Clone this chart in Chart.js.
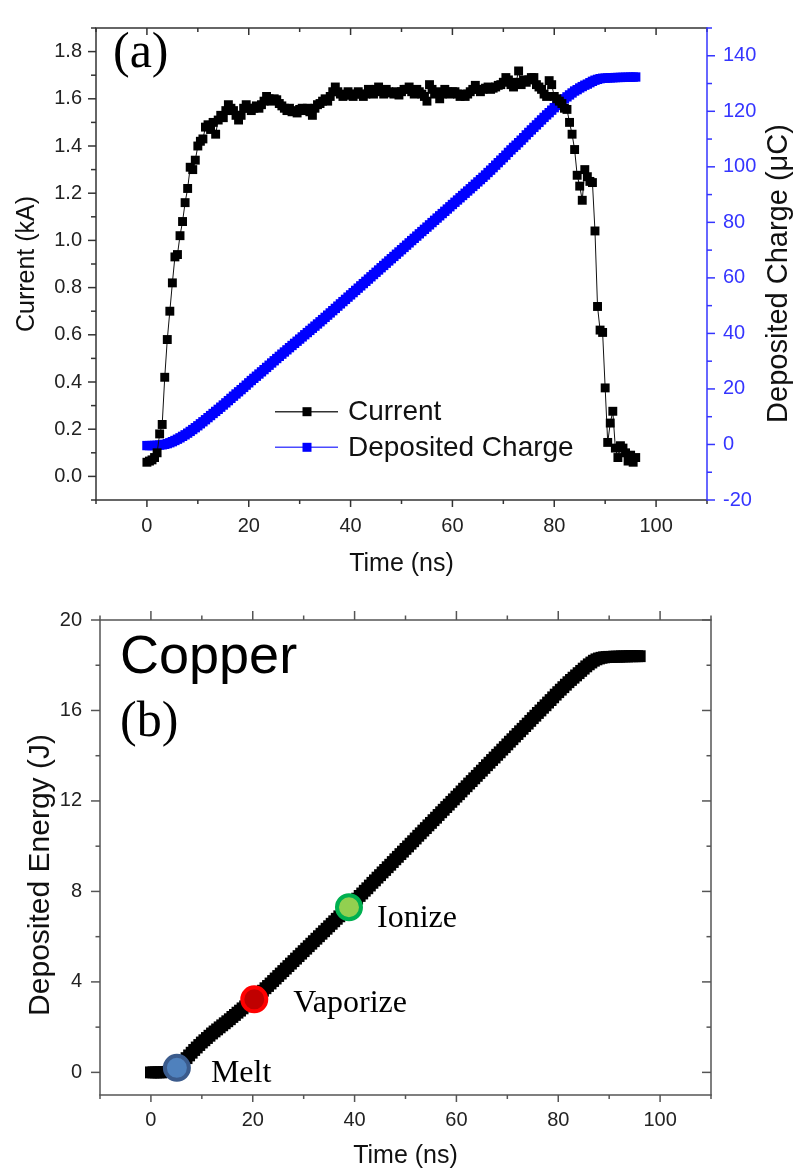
<!DOCTYPE html>
<html>
<head>
<meta charset="utf-8">
<script src="https://cdn.jsdelivr.net/npm/chart.js@4/dist/chart.umd.min.js"></script>
<style>
html,body{margin:0;padding:0;background:#fff;}
#wrap{position:relative;width:793px;height:1176px;overflow:hidden;background:#fff;}
#ca{position:absolute;left:0;top:0;}
#cb{position:absolute;left:0;top:590px;}
</style>
</head>
<body>
<div id="wrap">
<canvas id="ca" width="793" height="590"></canvas>
<canvas id="cb" width="793" height="586"></canvas>
</div>
<script>
// ---------------- DATA ----------------
const time = [
0,0.5,1,1.5,2,2.5,3,3.5,4,4.5,5,5.5,6,6.5,7,7.5,8,8.5,9,9.5,
10,10.5,11,11.5,12,12.5,13,13.5,14,14.5,15,15.5,16,16.5,17,17.5,18,18.5,19,19.5,
20,20.5,21,21.5,22,22.5,23,23.5,24,24.5,25,25.5,26,26.5,27,27.5,28,28.5,29,29.5,
30,30.5,31,31.5,32,32.5,33,33.5,34,34.5,35,35.5,36,36.5,37,37.5,38,38.5,39,39.5,
40,40.5,41,41.5,42,42.5,43,43.5,44,44.5,45,45.5,46,46.5,47,47.5,48,48.5,49,49.5,
50,50.5,51,51.5,52,52.5,53,53.5,54,54.5,55,55.5,56,56.5,57,57.5,58,58.5,59,59.5,
60,60.5,61,61.5,62,62.5,63,63.5,64,64.5,65,65.5,66,66.5,67,67.5,68,68.5,69,69.5,
70,70.5,71,71.5,72,72.5,73,73.5,74,74.5,75,75.5,76,76.5,77,77.5,78,78.5,79,79.5,
80,80.5,81,81.5,82,82.5,83,83.5,84,84.5,85,85.5,86,86.5,87,87.5,88,88.5,89,89.5,
90,90.5,91,91.5,92,92.5,93,93.5,94,94.5,95,95.5,96
];
const current = [
0.06,0.065,0.07,0.08,0.10,0.18,0.22,0.42,0.58,0.70,0.82,0.93,0.94,1.02,1.08,1.16,1.22,1.31,1.30,1.34,
1.40,1.42,1.43,1.48,1.49,1.47,1.50,1.45,1.51,1.53,1.52,1.55,1.575,1.56,1.55,1.53,1.51,1.53,1.56,1.575,
1.56,1.55,1.56,1.57,1.56,1.575,1.59,1.61,1.60,1.59,1.60,1.596,1.58,1.57,1.56,1.55,1.56,1.545,1.55,1.54,
1.555,1.56,1.55,1.56,1.545,1.53,1.56,1.575,1.58,1.59,1.60,1.59,1.61,1.63,1.65,1.63,1.62,1.61,1.615,1.63,
1.62,1.61,1.62,1.63,1.62,1.61,1.62,1.64,1.63,1.62,1.64,1.65,1.63,1.62,1.64,1.63,1.625,1.62,1.63,1.616,
1.63,1.64,1.64,1.65,1.63,1.62,1.64,1.63,1.62,1.61,1.59,1.66,1.64,1.62,1.63,1.60,1.62,1.64,1.63,1.62,
1.63,1.63,1.62,1.61,1.62,1.61,1.62,1.63,1.64,1.657,1.64,1.63,1.64,1.645,1.65,1.64,1.645,1.65,1.657,1.66,
1.67,1.69,1.68,1.66,1.65,1.67,1.718,1.66,1.68,1.67,1.68,1.69,1.69,1.66,1.65,1.64,1.62,1.61,1.677,1.66,
1.61,1.60,1.59,1.58,1.56,1.555,1.50,1.45,1.385,1.276,1.23,1.17,1.30,1.27,1.25,1.245,1.04,0.72,0.62,0.61,
0.375,0.144,0.226,0.276,0.12,0.08,0.13,0.12,0.10,0.065,0.09,0.06,0.08
];
const charge = [
-0.4,-0.4,-0.38,-0.35,-0.3,-0.22,-0.12,0.05,0.3,0.62,1.0,1.43,1.9,2.39,2.92,3.48,4.08,4.71,5.37,6.04,
6.73,7.45,8.17,8.91,9.66,10.41,11.16,11.91,12.66,13.43,14.21,14.99,15.79,16.6,17.4,18.19,18.97,19.75,20.55,21.37,
22.2,23.03,23.81,24.59,25.37,26.16,26.95,27.75,28.55,29.35,30.15,30.95,31.74,32.53,33.31,34.09,34.87,35.65,36.42,37.19,
37.96,38.74,39.52,40.3,41.08,41.85,42.62,43.4,44.19,44.98,45.78,46.58,47.38,48.19,49.01,49.83,50.64,51.45,52.26,53.07,
53.88,54.69,55.5,56.31,57.13,57.94,58.75,59.57,60.39,61.2,62.02,62.84,63.66,64.47,65.28,66.1,66.91,67.72,68.53,69.34,
70.15,70.97,71.79,72.61,73.43,74.24,75.05,75.87,76.68,77.49,78.29,79.1,79.92,80.74,81.55,82.36,83.17,83.98,84.8,85.61,
86.43,87.24,88.05,88.86,89.67,90.48,91.29,92.1,92.92,93.74,94.57,95.39,96.21,97.05,97.95,98.8,99.7,100.6,101.5,102.4,
103.3,104.2,105.2,106.1,107.0,107.8,108.7,109.6,110.5,111.5,112.4,113.3,114.2,115.1,116.0,116.9,117.8,118.7,119.5,120.4,
121.3,122.1,122.9,123.7,124.5,125.2,125.9,126.6,127.3,127.8,128.4,128.9,129.4,129.8,130.3,130.8,131.2,131.5,131.75,131.9,
131.95,132.0,132.05,132.1,132.15,132.18,132.2,132.22,132.25,132.27,132.3,132.32,132.35
];
const energy = [
0,0,0,0,0,0.01,0.02,0.04,0.07,0.12,0.19,0.28,0.39,0.51,0.63,0.75,0.87,0.99,1.1,1.21,
1.32,1.42,1.52,1.62,1.72,1.81,1.9,1.99,2.08,2.17,2.26,2.35,2.45,2.54,2.64,2.73,2.83,2.92,3.02,3.11,
3.2,3.3,3.4,3.5,3.61,3.72,3.82,3.93,4.04,4.15,4.26,4.37,4.48,4.59,4.7,4.81,4.92,5.03,5.14,5.25,
5.36,5.47,5.58,5.69,5.8,5.91,6.02,6.13,6.24,6.35,6.46,6.57,6.68,6.79,6.9,7.01,7.12,7.23,7.34,7.45,
7.57,7.68,7.8,7.91,8.03,8.14,8.26,8.38,8.49,8.61,8.72,8.84,8.95,9.07,9.18,9.3,9.42,9.53,9.65,9.76,
9.88,9.99,10.11,10.22,10.34,10.46,10.57,10.69,10.8,10.92,11.03,11.15,11.26,11.38,11.5,11.61,11.73,11.84,11.96,12.07,
12.19,12.3,12.42,12.54,12.65,12.77,12.88,13.0,13.11,13.23,13.34,13.46,13.58,13.69,13.81,13.92,14.04,14.15,14.27,14.38,
14.5,14.62,14.73,14.85,14.96,15.08,15.19,15.31,15.42,15.54,15.66,15.77,15.89,16.0,16.12,16.23,16.35,16.46,16.58,16.7,
16.81,16.92,17.03,17.14,17.25,17.35,17.45,17.55,17.65,17.75,17.85,17.95,18.04,18.12,18.2,18.26,18.3,18.33,18.35,18.36,
18.37,18.37,18.38,18.38,18.38,18.39,18.39,18.39,18.4,18.4,18.4,18.4,18.4
];
const phaseNames = ['Melt', 'Vaporize', 'Ionize'];
const phaseTime = [5.1, 20.3, 38.9];
const phaseEnergy = [0.2, 3.23, 7.3];

const xMajor = [0, 20, 40, 60, 80, 100];
const xMinor = [-10, 10, 30, 50, 70, 90, 110];
const currentMajor = [0.0, 0.2, 0.4, 0.6, 0.8, 1.0, 1.2, 1.4, 1.6, 1.8];
const currentMinor = [-0.1, 0.1, 0.3, 0.5, 0.7, 0.9, 1.1, 1.3, 1.5, 1.7, 1.9];
const chargeMajor = [-20, 0, 20, 40, 60, 80, 100, 120, 140];
const chargeMinor = [-10, 10, 30, 50, 70, 90, 110, 130, 150];
const energyMajor = [0, 4, 8, 12, 16, 20];
const energyMinor = [2, 6, 10, 14, 18];

const legendLabels = ['Current', 'Deposited Charge'];

// ---------------- HELPERS ----------------
const SANS = '"Liberation Sans", Arial, sans-serif';
const SERIF = '"Liberation Serif", "Times New Roman", serif';
Chart.defaults.font.family = SANS;
Chart.defaults.font.size = 20;
Chart.defaults.color = '#222';

function tickSet(ctx, scale, side, ca, major, majLen, minor, minLen, dir, color) {
  ctx.strokeStyle = color; ctx.lineWidth = 1.5;
  const s = dir === 'out' ? 1 : -1;
  const one = (v, len) => {
    const p = scale.getPixelForValue(v);
    ctx.beginPath();
    if (side === 'bottom') { ctx.moveTo(p, ca.bottom); ctx.lineTo(p, ca.bottom + s * len); }
    else if (side === 'top') { ctx.moveTo(p, ca.top); ctx.lineTo(p, ca.top - s * len); }
    else if (side === 'left') { ctx.moveTo(ca.left, p); ctx.lineTo(ca.left - s * len, p); }
    else { ctx.moveTo(ca.right, p); ctx.lineTo(ca.right + s * len, p); }
    ctx.stroke();
  };
  major.forEach(v => one(v, majLen));
  minor.forEach(v => one(v, minLen));
}
function seg(ctx, x1, y1, x2, y2, color, w) {
  ctx.strokeStyle = color; ctx.lineWidth = w || 1.5;
  ctx.beginPath(); ctx.moveTo(x1, y1); ctx.lineTo(x2, y2); ctx.stroke();
}
function fixedTicks(arr) { return scale => { scale.ticks = arr.map(v => ({ value: v })); }; }

// ---------------- CHART (a) ----------------
const frameA = {
  id: 'frameA',
  afterDraw(chart) {
    const ctx = chart.ctx, ca = chart.chartArea;
    const sx = chart.scales.x, sy = chart.scales.y, sy2 = chart.scales.y2;
    ctx.save();
    tickSet(ctx, sx, 'bottom', ca, xMajor, 7, xMinor, 4, 'out', '#333');
    tickSet(ctx, sx, 'top', ca, xMajor, 7, xMinor, 4, 'in', '#333');
    tickSet(ctx, sy, 'left', ca, currentMajor, 8, currentMinor, 5, 'out', '#333');
    tickSet(ctx, sy2, 'right', ca, chargeMajor, 8, chargeMinor, 5, 'out', '#3535ff');
    seg(ctx, ca.left - 0.75, ca.top, ca.right, ca.top, '#333');
    seg(ctx, ca.left - 0.75, ca.bottom, ca.right, ca.bottom, '#333');
    seg(ctx, ca.left, ca.top, ca.left, ca.bottom, '#333');
    seg(ctx, ca.right, ca.top - 0.75, ca.right, ca.bottom + 0.75, '#3535ff');
    // right axis title (reads bottom to top)
    ctx.save();
    ctx.translate(779, 273.5);
    ctx.rotate(-Math.PI / 2);
    ctx.font = '29px ' + SANS;
    ctx.fillStyle = '#111';
    ctx.textAlign = 'center'; ctx.textBaseline = 'middle';
    ctx.fillText('Deposited Charge (\u03bcC)', 0, 0);
    ctx.restore();
    // legend
    const rows = [411.7, 447.3];
    const lineCols = ['#333', '#4a4aff'];
    const boxCols = ['#000', '#0000ff'];
    ctx.font = '28px ' + SANS;
    ctx.textBaseline = 'middle'; ctx.textAlign = 'left';
    legendLabels.forEach((lab, i) => {
      seg(ctx, 275, rows[i], 338, rows[i], lineCols[i], 1.5);
      ctx.fillStyle = boxCols[i];
      ctx.fillRect(302.5, rows[i] - 4.5, 9, 9);
      ctx.fillStyle = '#111';
      ctx.fillText(lab, 348, rows[i] + 1);
    });
    // panel label
    ctx.font = '50px ' + SERIF;
    ctx.fillStyle = '#000';
    ctx.textBaseline = 'alphabetic';
    ctx.fillText('(a)', 113, 67);
    ctx.restore();
  }
};

new Chart(document.getElementById('ca'), {
  type: 'scatter',
  data: {
    datasets: [
      {
        label: legendLabels[0],
        data: time.map((t, i) => ({ x: t, y: current[i] })),
        yAxisID: 'y',
        showLine: true,
        borderColor: '#111',
        borderWidth: 1,
        pointStyle: 'rect',
        pointRadius: 6.3,
        pointBorderWidth: 0,
        pointBackgroundColor: '#000'
      },
      {
        label: legendLabels[1],
        data: time.map((t, i) => ({ x: t, y: charge[i] })),
        yAxisID: 'y2',
        showLine: true,
        borderColor: '#0000ff',
        borderWidth: 1,
        pointStyle: 'rect',
        pointRadius: 6.6,
        pointBorderWidth: 0,
        pointBackgroundColor: '#0000ff'
      }
    ]
  },
  options: {
    responsive: false,
    animation: false,
    devicePixelRatio: 1,
    layout: { padding: { top: 9, left: 0, right: 0, bottom: 0 } },
    plugins: { legend: { display: false }, tooltip: { enabled: false } },
    scales: {
      x: {
        type: 'linear', position: 'bottom', min: -10, max: 110,
        afterBuildTicks: fixedTicks(xMajor),
        afterFit: s => { s.height = 90; },
        grid: { display: false, drawTicks: false },
        border: { display: false },
        ticks: { padding: 14, autoSkip: false, maxRotation: 0, color: '#222', callback: v => String(v) },
        title: { display: true, text: 'Time (ns)', color: '#111', font: { size: 25 }, padding: { top: 0, bottom: 11 } }
      },
      y: {
        type: 'linear', position: 'left', min: -0.1, max: 1.9,
        afterBuildTicks: fixedTicks(currentMajor),
        afterFit: s => { s.width = 96; },
        grid: { display: false, drawTicks: false },
        border: { display: false },
        ticks: { padding: 14, autoSkip: false, color: '#222', callback: v => Number(v).toFixed(1) },
        title: { display: true, text: 'Current (kA)', color: '#111', font: { size: 25 }, padding: { top: 12, bottom: 0 } }
      },
      y2: {
        type: 'linear', position: 'right', min: -20, max: 150,
        afterBuildTicks: fixedTicks(chargeMajor),
        afterFit: s => { s.width = 86; },
        grid: { display: false, drawTicks: false },
        border: { display: false },
        ticks: { padding: 16, autoSkip: false, color: '#3535ff', callback: v => String(v) },
        title: { display: false }
      }
    }
  },
  plugins: [frameA]
});

// ---------------- CHART (b) ----------------
const frameB = {
  id: 'frameB',
  afterDraw(chart) {
    const ctx = chart.ctx, ca = chart.chartArea;
    const sx = chart.scales.x, sy = chart.scales.y;
    const gc = '#555';
    ctx.save();
    tickSet(ctx, sx, 'bottom', ca, xMajor, 7, xMinor, 4, 'out', gc);
    tickSet(ctx, sx, 'top', ca, xMajor, 9, xMinor, 4.5, 'out', gc);
    tickSet(ctx, sy, 'left', ca, energyMajor, 9, energyMinor, 4.5, 'out', gc);
    tickSet(ctx, sy, 'right', ca, energyMajor, 9, energyMinor, 4.5, 'in', gc);
    seg(ctx, ca.left - 0.75, ca.top, ca.right + 0.75, ca.top, gc);
    seg(ctx, ca.left - 0.75, ca.bottom, ca.right + 0.75, ca.bottom, gc);
    seg(ctx, ca.left, ca.top, ca.left, ca.bottom, gc);
    seg(ctx, ca.right, ca.top, ca.right, ca.bottom, gc);
    // left axis title
    ctx.save();
    ctx.translate(40.8, 285);
    ctx.rotate(-Math.PI / 2);
    ctx.font = '30px ' + SANS;
    ctx.fillStyle = '#111';
    ctx.textAlign = 'center'; ctx.textBaseline = 'middle';
    ctx.fillText('Deposited Energy (J)', 0, 0);
    ctx.restore();
    // phase labels next to markers
    const dx = [34, 39, 28], dy = [14, 13, 20];
    ctx.font = '32px ' + SERIF;
    ctx.fillStyle = '#000';
    ctx.textAlign = 'left'; ctx.textBaseline = 'alphabetic';
    phaseNames.forEach((n, i) => {
      const px = sx.getPixelForValue(phaseTime[i]);
      const py = sy.getPixelForValue(phaseEnergy[i]);
      ctx.fillText(n, px + dx[i], py + dy[i]);
    });
    // Copper & (b)
    ctx.font = '54px ' + SANS;
    ctx.fillText('Copper', 120, 83);
    ctx.font = '50px ' + SERIF;
    ctx.fillText('(b)', 120, 146);
    ctx.restore();
  }
};

new Chart(document.getElementById('cb'), {
  type: 'scatter',
  data: {
    datasets: [
      {
        label: 'Phase',
        data: phaseTime.map((t, i) => ({ x: t, y: phaseEnergy[i] })),
        pointStyle: 'circle',
        pointRadius: 12,
        pointBorderWidth: 4,
        pointBackgroundColor: ['#4f81bd', '#c00000', '#92d050'],
        pointBorderColor: ['#3b5b8c', '#ff0000', '#00b050'],
        showLine: false
      },
      {
        label: 'Energy',
        data: time.map((t, i) => ({ x: t, y: energy[i] })),
        showLine: true,
        borderColor: '#000',
        borderWidth: 1,
        pointStyle: 'rect',
        pointRadius: 8.4,
        pointBorderWidth: 0,
        pointBackgroundColor: '#000'
      }
    ]
  },
  options: {
    responsive: false,
    animation: false,
    devicePixelRatio: 1,
    layout: { padding: { top: 12, left: 0, right: 82, bottom: 0 } },
    plugins: { legend: { display: false }, tooltip: { enabled: false } },
    scales: {
      x: {
        type: 'linear', position: 'bottom', min: -10, max: 110,
        afterBuildTicks: fixedTicks(xMajor),
        afterFit: s => { s.height = 81; },
        grid: { display: false, drawTicks: false },
        border: { display: false },
        ticks: { padding: 13, autoSkip: false, maxRotation: 0, color: '#222', callback: v => String(v) },
        title: { display: true, text: 'Time (ns)', color: '#111', font: { size: 25 }, padding: { top: 0, bottom: 5 } }
      },
      y: {
        type: 'linear', position: 'left', min: -1, max: 20,
        afterBuildTicks: fixedTicks(energyMajor),
        afterFit: s => { s.width = 100; },
        grid: { display: false, drawTicks: false },
        border: { display: false },
        ticks: { padding: 18, autoSkip: false, color: '#222', callback: v => String(v) },
        title: { display: false }
      }
    }
  },
  plugins: [frameB]
});
</script>
</body>
</html>
